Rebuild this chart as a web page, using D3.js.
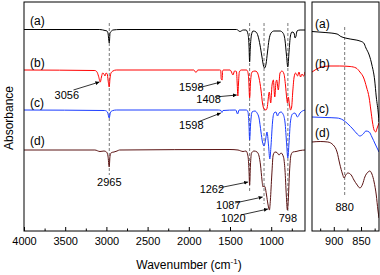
<!DOCTYPE html>
<html>
<head>
<meta charset="utf-8">
<script src="https://cdn.jsdelivr.net/npm/d3@7"></script>
<style>
  body { margin: 0; background: #fff; }
  svg { display: block; font-family: Arial, "Liberation Sans", sans-serif; }
  .axis text { font-size: 11px; fill: #000; }
  .axis path, .axis line { stroke: #000; }
</style>
</head>
<body>
<div id="chart"></div>
<script>
//spectra as [wavenumber, absorbance (a.u., stacked)]
var specA = [[4000,201.5],[3080,201.5],[3017,200.5],[2993,200],[2981,198],[2965,188],[2956,198],[2938,200],[2920,201],[2835,201.5],
  [1420,201.5],[1379,199.5],[1340,201],[1306,201],[1282,197],[1270,186],[1262,169],[1254,183],[1240,196],[1221,200],[1184,199],
  [1160,195],[1136,186],[1112,174],[1093,165],[1081,163],[1063,167],[1045,179],[1027,191],[1002,198],[966,200],[893,200],
  [857,198],[833,191],[815,176],[799,164],[784,179],[767,195],[748,199],[723,198],[711,193],[699,195],[687,200],[650,201],[590,201]];

var specB = [[4000,161],[3140,160.5],[3114,159],[3096,155],[3074,149],[3060,154],[3045,158],[3030,157],[3017,155],[3005,158],
  [2990,157],[2980,151],[2966,144],[2956,153],[2944,158],[2920,160],[2880,161],[1940,161],[1913,158.5],[1890,161],[1625,161],
  [1612,160.5],[1607,152],[1595,151],[1590,160],[1580,161],[1500,161],[1488,160],[1464,156],[1445,160],[1422,159.5],[1412,146],
  [1405,135],[1398,146],[1387,159],[1364,161],[1300,161],[1288,160],[1274,153],[1262,133],[1251,149],[1233,159],[1197,160],
  [1172,159],[1148,153],[1124,141],[1106,128],[1087,122],[1063,121],[1050,123],[1023,139],[1006,128],[990,146],[974,151],
  [957,134],[942,149],[933,151],[914,141],[893,158],[869,160],[845,157],[827,146],[812,133],[803,128],[792,134],[780,127],
  [765,121],[752,124],[738,140],[722,154],[704,158],[681,155],[663,159],[644,154],[626,157],[608,155],[590,159]];

var specC = [[4000,121],[3020,120.5],[2987,119],[2966,113],[2950,119],[2920,120.5],[2880,121],[1640,121],[1610,120.5],[1598,118.5],
  [1585,120.5],[1430,121],[1408,117],[1390,121],[1300,121],[1282,119],[1270,106],[1262,91],[1251,106],[1233,119],[1197,120],
  [1172,118],[1148,113],[1124,99],[1106,89],[1087,85],[1069,91],[1051,99],[1033,86],[1017,72],[1002,86],[984,109],[966,118],
  [942,119],[924,115],[905,118],[881,119],[857,117],[833,109],[812,86],[799,73],[784,88],[767,109],[742,117],[711,118],
  [681,114],[650,118],[590,121]];

var specD = [[4000,81],[3140,81],[3078,79.5],[3029,80],[2999,79],[2981,75],[2966,64],[2956,75],[2938,78.5],[2908,79],[2871,80],
  [2840,81],[1500,81.5],[1403,81],[1342,79.5],[1306,80],[1282,75],[1270,61],[1262,46],[1252,66],[1239,78],[1209,80],[1172,79],
  [1148,75],[1130,66],[1112,51],[1100,44],[1087,45],[1075,44],[1057,36],[1040,27],[1022,21],[1010,31],[993,56],[976,76],
  [954,79],[930,78.5],[905,76],[881,78],[851,74],[833,61],[817,36],[804,21],[793,31],[778,59],[760,76],[736,79],[699,79.5],
  [650,80.5],[590,81]];

//zoomed 940-817 region
var zoomA = [[940,199.5],[916,198.5],[894,197],[887,194.5],[879,193],[870,192],[859,191],[852,190],[845,188],[841,183],
  [835,176],[830,166],[825,151],[822,134],[818,116],[817,109]];
var zoomB = [[940,159],[933,161.5],[922,164],[907,165],[889,165],[870,164.5],[859,163],[852,159],[845,153],[840,144],
  [835,133],[832,121],[829,109],[826,101],[823,99],[821,102],[817,108]];
var zoomC = [[940,114],[916,113.5],[894,113],[883,111],[874,107],[865,102],[857,97],[852,95],[846,97],[841,100],[835,99],
  [830,94],[824,87],[817,79]];
var zoomD = [[940,89],[925,89.5],[911,89],[901,86],[894,79],[889,67],[884,57],[881,53],[878,56],[874,58],[868,56],[863,51],
  [857,46],[852,43],[847,47],[843,54],[837,59],[834,60],[830,57],[826,49],[822,36],[819,21],[817,13]];

var colors = ["#000000", "#ff0000", "#1a3cff", "#5b1414"];
var seriesLabels = ["(a)", "(b)", "(c)", "(d)"];
var labelLevels = [206, 164, 124, 86];     //main panel label baselines (a.u.)
var zoomLabelLevels = [203, 163, 118, 94];

var mainTicks = [4000, 3500, 3000, 2500, 2000, 1500, 1000];
var mainMinor = [3750, 3250, 2750, 2250, 1750, 1250, 750];
var zoomTicks = [900, 850];
var zoomMinor = [925, 875, 825];

//marked bands: [wavenumber, top, bottom]
var bands = [[2965, 208, 56], [1262, 208, 40], [1087, 208, 27], [798, 208, 19]];
var zoomBand = [880, 204, 34];

//peak annotations: [text, x-wavenumber of label, label level, arrow from wn, arrow from level, arrow to wn, arrow to level]
var peakNotes = [
  ["3056", 3480, 132, 3400, 141, 3085, 149],
  ["1598", 1970, 140, 1890, 143, 1612, 149],
  ["1408", 1760, 128, 1680, 134, 1418, 136],
  ["1598", 1970, 102, 1890, 109, 1612, 118],
  ["1262", 1720, 38, 1640, 43, 1280, 49],
  ["1087", 1520, 22, 1440, 28, 1104, 34],
  ["1020", 1460, 9, 1370, 16, 1040, 22],
  ["798", 798, 9],
  ["2965", 2965, 45]
];
var zoomNote = ["880", 880, 20];

var width = 380, height = 275;
var svg = d3.select("#chart").append("svg")
  .attr("width", width).attr("height", height);

svg.append("defs").append("marker")
  .attr("id", "arrow").attr("viewBox", "0 0 10 10")
  .attr("refX", 10).attr("refY", 5)
  .attr("markerWidth", 5).attr("markerHeight", 5)
  .attr("orient", "auto")
  .append("path").attr("d", "M0,0L10,5L0,10z").attr("fill", "#000");

var x = d3.scaleLinear().domain([4000, 590]).range([24, 305]);
var x2 = d3.scaleLinear().domain([940, 817]).range([312, 379]);
var y = d3.scaleLinear().domain([0, 229]).range([231, 2]);

function clip(id, sc) {
  svg.select("defs").append("clipPath").attr("id", id)
    .append("rect").attr("x", sc.range()[0]).attr("y", 2)
    .attr("width", sc.range()[1] - sc.range()[0]).attr("height", 229);
}
clip("clipMain", x);
clip("clipZoom", x2);

//dashed guide lines
svg.selectAll(".band").data(bands).enter().append("line")
  .attr("x1", function(d){ return x(d[0]); }).attr("x2", function(d){ return x(d[0]); })
  .attr("y1", function(d){ return y(d[1]); }).attr("y2", function(d){ return y(d[2]); })
  .attr("stroke", "#555").attr("stroke-width", 0.8).attr("stroke-dasharray", "3,2");
svg.append("line")
  .attr("x1", x2(zoomBand[0])).attr("x2", x2(zoomBand[0]))
  .attr("y1", y(zoomBand[1])).attr("y2", y(zoomBand[2]))
  .attr("stroke", "#555").attr("stroke-width", 0.8).attr("stroke-dasharray", "3,2");

//spectra
var lineMain = d3.line().x(function(d){ return x(d[0]); }).y(function(d){ return y(d[1]); }).curve(d3.curveMonotoneX);
var lineZoom = d3.line().x(function(d){ return x2(d[0]); }).y(function(d){ return y(d[1]); }).curve(d3.curveMonotoneX);

svg.append("g").attr("clip-path", "url(#clipMain)")
  .selectAll("path").data([specA, specB, specC, specD]).enter().append("path")
  .attr("d", lineMain).attr("fill", "none")
  .attr("stroke", function(d, i){ return colors[i]; }).attr("stroke-width", 1);

svg.append("g").attr("clip-path", "url(#clipZoom)")
  .selectAll("path").data([zoomA, zoomB, zoomC, zoomD]).enter().append("path")
  .attr("d", lineZoom).attr("fill", "none")
  .attr("stroke", function(d, i){ return colors[i]; }).attr("stroke-width", 1);

//series labels
svg.selectAll(".lbl").data(seriesLabels).enter().append("text")
  .attr("x", 30).attr("y", function(d, i){ return y(labelLevels[i]); })
  .attr("font-size", 12).text(function(d){ return d; });
svg.selectAll(".lbl2").data(seriesLabels).enter().append("text")
  .attr("x", 315).attr("y", function(d, i){ return y(zoomLabelLevels[i]); })
  .attr("font-size", 12).text(function(d){ return d; });

//peak annotations
peakNotes.forEach(function(p) {
  svg.append("text").attr("x", x(p[1])).attr("y", y(p[2]))
    .attr("text-anchor", "middle").attr("font-size", 11).text(p[0]);
  if (p.length > 3) {
    svg.append("line")
      .attr("x1", x(p[3])).attr("y1", y(p[4]))
      .attr("x2", x(p[5])).attr("y2", y(p[6]))
      .attr("stroke", "#000").attr("stroke-width", 0.8)
      .attr("marker-end", "url(#arrow)");
  }
});
svg.append("text").attr("x", x2(zoomNote[1])).attr("y", y(zoomNote[2]))
  .attr("text-anchor", "middle").attr("font-size", 11).text(zoomNote[0]);

//axes
function drawAxis(sc, major, minor) {
  svg.append("g").attr("class", "axis").attr("transform", "translate(0,231)")
    .call(d3.axisBottom(sc).tickValues(major).tickFormat(d3.format("d"))
      .tickSizeInner(-4).tickSizeOuter(0).tickPadding(6))
    .select(".domain").remove();
  svg.append("g").attr("class", "axis").attr("transform", "translate(0,231)")
    .call(d3.axisBottom(sc).tickValues(minor).tickFormat("")
      .tickSizeInner(-2.5).tickSizeOuter(0))
    .select(".domain").remove();
  svg.append("rect")
    .attr("x", sc.range()[0]).attr("y", 2)
    .attr("width", sc.range()[1] - sc.range()[0]).attr("height", 229)
    .attr("fill", "none").attr("stroke", "#000").attr("stroke-width", 1);
}
drawAxis(x, mainTicks, mainMinor);
drawAxis(x2, zoomTicks, zoomMinor);

//axis titles
var xt = svg.append("text").attr("x", 189).attr("y", 269)
  .attr("text-anchor", "middle").attr("font-size", 12).text("Wavenumber (cm");
xt.append("tspan").attr("font-size", 8).attr("dy", -5).text("-1");
xt.append("tspan").attr("dy", 5).text(")");

svg.append("text")
  .attr("transform", "translate(13,118) rotate(-90)")
  .attr("text-anchor", "middle").attr("font-size", 12).text("Absorbance");
</script>
</body>
</html>
